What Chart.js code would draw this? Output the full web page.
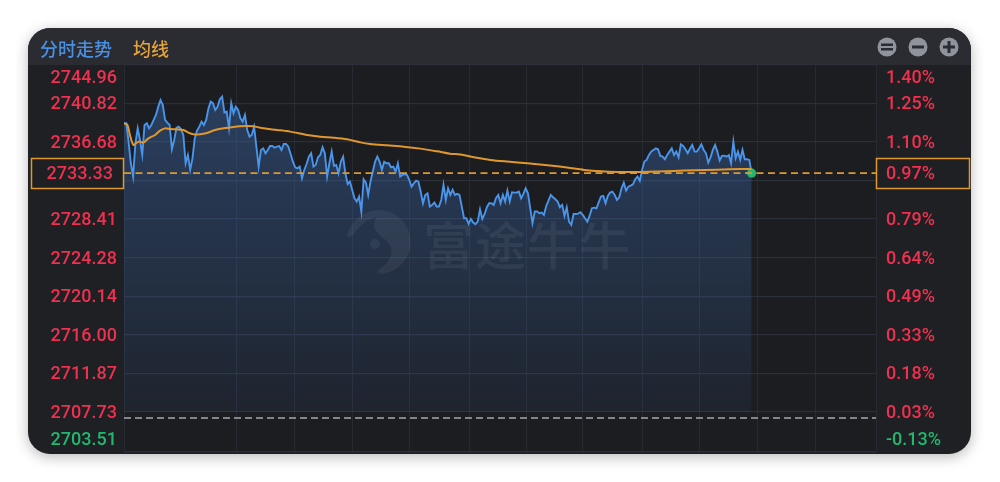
<!DOCTYPE html>
<html>
<head>
<meta charset="utf-8">
<title>分时走势</title>
<script src="https://cdn.jsdelivr.net/npm/chart.js@4"></script>
<style>
  html, body { margin: 0; padding: 0; background: #fff; width: 1000px; height: 482px; overflow: hidden; }
  #card { position: absolute; left: 28px; top: 28px; width: 943px; height: 426px; border-radius: 22px;
          background: #1e2024; box-shadow: 0 3px 14px rgba(0,0,0,.28); overflow: hidden; }
  #head { position: absolute; left: 0; top: 0; width: 100%; height: 37px; background: #2a2c31; }
  #plotBg { position: absolute; left: 96px; top: 37px; width: 752px; height: 386px; background: #1c1d21; }
  canvas { position: absolute; left: 0; top: 0; }
  .title { position: absolute; top: 36px; font: 500 18px "Noto Sans CJK SC", sans-serif; line-height: 24px; }
  #mark { position: absolute; left: 423px; top: 214px; font: 500 51px "Noto Sans CJK SC", sans-serif; line-height: 58px;
          color: rgba(255,255,255,.06); letter-spacing: 1px; pointer-events: none; }
  #logo { position: absolute; left: 346px; top: 209px; pointer-events: none; }
</style>
</head>
<body>
<div id="card"><div id="head"></div><div id="plotBg"></div></div>
<canvas id="chart" width="1000" height="482"></canvas>
<div class="title" style="left:40px;color:#4a90e2">分时走势</div>
<div class="title" style="left:133px;color:#e8a33a">均线</div>
<div id="mark">富途牛牛</div>
<svg id="logo" width="66" height="68" viewBox="0 0 66 68">
  <path d="M33 1a32 32 0 0 1 4 63.7c-3 .3-5-1-6-3 10-6 16-14 14-23-2-8-12-11-16-18-2-4-1-9 2-13-9 2-17 8-22 16-3 4-7 6-8 3C5 12 18 1 33 1z" fill="rgba(255,255,255,.055)"/>
  <circle cx="29" cy="35" r="5" fill="rgba(255,255,255,.055)"/>
</svg>
<script>
// prices, one per sample from the open
const prices = [
  2738.66, 2738.66, 2736.70, 2734.38, 2732.95, 2736.52, 2738.12, 2736.87, 2735.27, 2738.48,
  2738.66, 2738.12, 2738.48, 2739.02, 2739.55, 2740.44, 2741.16, 2740.62, 2739.02, 2738.73,
  2738.48, 2735.88, 2736.87, 2738.19, 2738.30, 2738.02, 2737.41, 2734.38, 2735.27, 2733.66,
  2734.91, 2737.05, 2737.87, 2738.30, 2738.84, 2738.48, 2739.02, 2740.26, 2740.98, 2740.80,
  2740.09, 2740.44, 2741.23, 2741.51, 2739.80, 2739.91, 2738.12, 2740.80, 2739.73, 2740.44,
  2740.09, 2739.19, 2738.84, 2739.55, 2737.95, 2737.23, 2737.41, 2738.30, 2736.16, 2734.02,
  2735.80, 2735.98, 2735.45, 2735.80, 2736.23, 2736.23, 2736.05, 2736.16, 2736.23, 2735.80,
  2736.45, 2736.45, 2736.16, 2735.38, 2734.55, 2733.95, 2733.84, 2734.02, 2732.77, 2733.66,
  2734.30, 2735.09, 2735.45, 2734.02, 2734.20, 2735.02, 2735.27, 2736.09, 2735.45, 2732.95,
  2734.38, 2735.63, 2734.09, 2734.20, 2733.31, 2734.55, 2735.09, 2733.31, 2732.16, 2732.41,
  2731.52, 2730.63, 2730.27, 2730.81, 2729.20, 2732.66, 2732.30, 2730.98, 2732.41, 2733.48,
  2734.55, 2735.09, 2734.55, 2733.66, 2734.55, 2734.38, 2734.38, 2733.95, 2734.02, 2733.48,
  2734.38, 2732.95, 2733.13, 2733.23, 2733.13, 2732.59, 2731.88, 2732.23, 2732.52, 2732.41,
  2731.34, 2730.09, 2730.98, 2731.16, 2729.74, 2729.91, 2730.16, 2729.74, 2729.74, 2730.45,
  2732.06, 2730.45, 2731.70, 2730.99, 2731.53, 2730.99, 2731.10, 2730.99, 2729.74, 2728.49,
  2728.49, 2727.89, 2728.42, 2728.03, 2727.85, 2728.13, 2729.45, 2728.42, 2728.92, 2729.67,
  2730.10, 2730.10, 2729.92, 2730.63, 2730.99, 2730.10, 2730.99, 2730.28, 2731.45, 2730.28,
  2731.28, 2731.24, 2731.24, 2731.35, 2730.63, 2731.10, 2731.70, 2731.17, 2729.56, 2727.96,
  2729.21, 2729.21, 2729.03, 2729.10, 2728.85, 2729.81, 2730.38, 2730.99, 2730.74, 2730.53,
  2730.28, 2729.67, 2729.92, 2728.74, 2729.67, 2728.13, 2727.78, 2728.95, 2728.95, 2728.99,
  2729.13, 2728.85, 2728.49, 2728.13, 2728.74, 2729.56, 2729.63, 2729.56, 2730.20, 2730.81,
  2730.88, 2730.10, 2730.88, 2731.24, 2731.35, 2730.99, 2730.45, 2730.74, 2731.70, 2732.31,
  2731.45, 2731.88, 2731.99, 2732.13, 2732.67, 2732.95, 2732.49, 2733.67, 2734.56, 2734.74,
  2735.27, 2735.63, 2735.81, 2735.98, 2735.88, 2735.17, 2735.09, 2734.81, 2735.27, 2735.63,
  2735.98, 2735.27, 2735.63, 2735.02, 2736.41, 2736.24, 2735.88, 2735.45, 2735.95, 2736.34,
  2735.63, 2735.63, 2735.98, 2736.41, 2735.81, 2735.45, 2734.45, 2735.02, 2735.81, 2736.34,
  2735.63, 2734.67, 2735.17, 2735.20, 2735.09, 2735.27, 2734.38, 2736.70, 2734.92, 2735.63,
  2734.74, 2735.81, 2734.81, 2734.81, 2734.74, 2733.33
];

// average line, read at these sample positions
const avgAt = [
  0, 1.5, 2.6, 4.1, 5.6, 7, 8.5, 10.7, 13.6, 15.8, 18, 20.2, 23.1, 26, 28.2, 30.4, 33.3, 36.3, 39.9,
  43.6, 48, 50.9, 53.8, 56.7, 61.1, 67, 72.8, 80.2, 86, 91.9, 97.7, 103.6, 107.9, 115.3, 122.6,
  129.9, 137.2, 142.8, 147.4, 153.3, 160.6, 168, 176.7, 185.5, 194.2, 201.6, 208.9, 216.2, 226.4,
  233.7, 241, 249.8, 260, 270.3, 275
];
const avgPrices = [
  2738.66, 2738.48, 2737.41, 2736.34, 2736.59, 2736.70, 2736.59, 2737.05, 2737.41, 2737.87, 2738.12,
  2738.05, 2738.02, 2737.95, 2737.66, 2737.48, 2737.48, 2737.62, 2737.95, 2738.12, 2738.27, 2738.34,
  2738.37, 2738.34, 2738.12, 2737.95, 2737.77, 2737.41, 2737.23, 2737.12, 2736.95, 2736.62, 2736.45,
  2736.30, 2736.16, 2735.95, 2735.66, 2735.41, 2735.31, 2735.02, 2734.74, 2734.56, 2734.38, 2734.17,
  2733.92, 2733.67, 2733.52, 2733.45, 2733.45, 2733.49, 2733.56, 2733.63, 2733.70, 2733.77, 2733.77
];

const lastPrice = 2733.33;
const lastPct = '0.97%';
const preClose = 2707.1;
const fillBase = 2707.73;

// y ticks; the 2732.55 line is only a grid line, its label sits behind the price box
const priceTicks = [2744.96, 2740.82, 2736.68, 2732.55, 2728.41, 2724.28, 2720.14, 2716.00, 2711.87, 2707.73, 2703.51];
const priceLabels = ['2744.96', '2740.82', '2736.68', '', '2728.41', '2724.28', '2720.14', '2716.00', '2711.87', '2707.73', '2703.51'];
const pctLabels = ['1.40%', '1.25%', '1.10%', '', '0.79%', '0.64%', '0.49%', '0.33%', '0.18%', '0.03%', '-0.13%'];
const gridAt = [0, 49.5, 74.5, 100.3, 125.3, 151.2, 176.2, 201.1, 227.4, 252, 277.4, 303.2, 329.5];

const UP = '#f0304e', DOWN = '#22b86f', ORANGE = '#e0982e', BLUE = '#4a94ea';
const LABEL_FONT = '500 18px Roboto';

// labels are drawn here because the first and last ones sit inside the plot edge
const sideLabels = {
  id: 'sideLabels',
  afterDraw(chart) {
    const { ctx } = chart;
    const y = chart.scales.y;
    ctx.save();
    ctx.font = LABEL_FONT;
    ctx.textBaseline = 'middle';
    priceTicks.forEach((v, i) => {
      let py = y.getPixelForValue(v) + 1.5;
      if (i === 0) py += 12;
      if (i === priceTicks.length - 1) py -= 13;
      ctx.fillStyle = i === priceTicks.length - 1 ? DOWN : UP;
      ctx.textAlign = 'right';
      ctx.fillText(priceLabels[i], 117, py);
      ctx.textAlign = 'left';
      ctx.fillText(pctLabels[i], 886, py);
    });
    // boxes for the last price
    const py = y.getPixelForValue(lastPrice);
    ctx.strokeStyle = ORANGE;
    ctx.lineWidth = 1.5;
    ctx.strokeRect(31.5, 158.5, 92, 30);
    ctx.strokeRect(876.5, 158.5, 93, 30);
    ctx.fillStyle = UP;
    ctx.textAlign = 'right';
    ctx.fillText(lastPrice.toFixed(2), 113, py + 1.5);
    ctx.textAlign = 'left';
    ctx.fillText(lastPct, 886, py + 1.5);
    // zoom buttons in the header
    [887, 918, 949].forEach((cx, i) => {
      ctx.fillStyle = '#8f949c';
      ctx.beginPath();
      ctx.arc(cx, 47, 9.5, 0, Math.PI * 2);
      ctx.fill();
      ctx.fillStyle = '#2a2c31';
      if (i === 0) {
        ctx.fillRect(cx - 6, 43.5, 12, 2.5);
        ctx.fillRect(cx - 6, 48, 12, 2.5);
      } else {
        ctx.fillRect(cx - 6, 45.5, 12, 3);
        if (i === 2) ctx.fillRect(cx - 1.5, 41, 3, 12);
      }
    });
    ctx.restore();
  }
};

new Chart(document.getElementById('chart'), {
  type: 'line',
  data: {
    datasets: [
      {
        label: '均线',
        data: avgAt.map((x, i) => ({ x: x, y: avgPrices[i] })),
        borderColor: ORANGE,
        borderWidth: 2,
        pointRadius: 0,
        tension: 0.3,
        order: 1
      },
      {
        label: '分时走势',
        data: prices.map((p, i) => ({ x: i, y: p })),
        borderColor: BLUE,
        borderWidth: 1.9,
        pointRadius: ctx => ctx.dataIndex === prices.length - 1 ? 4.5 : 0,
        pointBackgroundColor: '#27b56f',
        pointBorderColor: 'rgba(39,181,111,.35)',
        pointBorderWidth: 1,
        tension: 0,
        fill: { target: { value: fillBase } },
        backgroundColor: ctx => {
          const g = ctx.chart.ctx.createLinearGradient(0, 100, 0, 413);
          g.addColorStop(0, 'rgba(62,110,180,.42)');
          g.addColorStop(1, 'rgba(62,110,180,.09)');
          return g;
        },
        order: 2
      },
      {
        label: 'last',
        data: [{ x: 0, y: lastPrice }, { x: 329.5, y: lastPrice }],
        borderColor: ORANGE,
        borderWidth: 1.6,
        borderDash: [7, 4.5],
        pointRadius: 0,
        order: 0
      },
      {
        label: 'preClose',
        data: [{ x: 0, y: preClose }, { x: 329.5, y: preClose }],
        borderColor: '#a3a8b0',
        borderWidth: 1.7,
        borderDash: [7, 4],
        pointRadius: 0,
        order: 0
      }
    ]
  },
  options: {
    responsive: false,
    animation: false,
    devicePixelRatio: 1,
    layout: { padding: { top: 64.5, bottom: 30.5, left: 0, right: 0 } },
    plugins: { legend: { display: false }, tooltip: { enabled: false } },
    scales: {
      x: {
        type: 'linear',
        min: 0,
        max: 329.5,
        afterBuildTicks: axis => { axis.ticks = gridAt.map(v => ({ value: v })); },
        afterFit: axis => { axis.height = 0; },
        ticks: { display: false },
        border: { display: false },
        grid: { color: '#262a33', lineWidth: 1, drawTicks: false }
      },
      y: {
        min: 2703.51,
        max: 2744.96,
        afterBuildTicks: axis => { axis.ticks = priceTicks.map(v => ({ value: v })); },
        afterFit: axis => { axis.width = 124; },
        ticks: { display: false },
        border: { display: false },
        grid: { color: '#2b2f3a', lineWidth: 1.3, drawTicks: false }
      },
      yRight: {
        position: 'right',
        afterFit: axis => { axis.width = 124; },
        ticks: { display: false },
        border: { display: false },
        grid: { display: false }
      }
    }
  },
  plugins: [sideLabels]
});
</script>
</body>
</html>
